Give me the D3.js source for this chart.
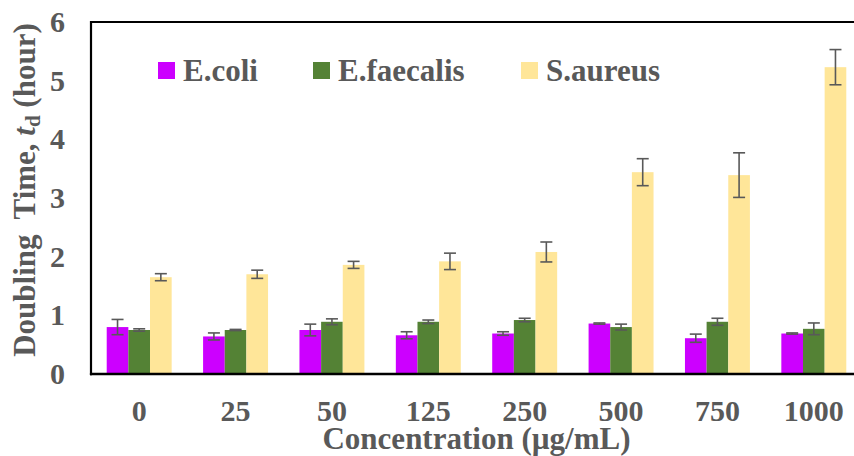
<!DOCTYPE html>
<html>
<head>
<meta charset="utf-8">
<script src="https://cdn.jsdelivr.net/npm/d3@7"></script>
<style>
  html, body { margin: 0; padding: 0; background: #fff; }
  svg { display: block; }
  text { font-family: "Liberation Serif", "Times New Roman", serif; font-weight: bold; fill: #595959; }
</style>
</head>
<body>
<svg id="chart" width="854" height="456"></svg>
<script>
// ---- data ----
const categories = ["0", "25", "50", "125", "250", "500", "750", "1000"];
const seriesNames = ["E.coli", "E.faecalis", "S.aureus"];
const ecoli        = [0.80, 0.64, 0.75, 0.66, 0.69, 0.86, 0.61, 0.69];
const ecoliErr     = [0.13, 0.06, 0.10, 0.06, 0.03, 0.01, 0.07, 0.01];
const efaecalis    = [0.75, 0.75, 0.89, 0.89, 0.92, 0.80, 0.89, 0.77];
const efaecalisErr = [0.02, 0.01, 0.05, 0.03, 0.03, 0.05, 0.06, 0.10];
const saureus      = [1.65, 1.70, 1.86, 1.92, 2.08, 3.44, 3.39, 5.23];
const saureusErr   = [0.06, 0.07, 0.06, 0.14, 0.17, 0.23, 0.38, 0.30];
const yTicks = [0, 1, 2, 3, 4, 5, 6];

// ---- layout ----
const colors = ["#CC00FF", "#548235", "#FFE699"];
const plot = { left: 91, right: 862, top: 22, bottom: 374 };
const W = 854, H = 456;

const values = [ecoli, efaecalis, saureus];
const errors = [ecoliErr, efaecalisErr, saureusErr];

const svg = d3.select("#chart");

const x0 = d3.scaleBand().domain(categories).range([plot.left, plot.right])
  .paddingInner(0.326).paddingOuter(0.163);
const x1 = d3.scaleBand().domain(seriesNames).range([0, x0.bandwidth()]);
const y = d3.scaleLinear().domain([0, 6]).range([plot.bottom, plot.top]);

// bars
seriesNames.forEach((s, si) => {
  const g = svg.append("g");
  g.selectAll("rect").data(categories).join("rect")
    .attr("x", c => x0(c) + x1(s))
    .attr("width", x1.bandwidth())
    .attr("y", (c, i) => y(values[si][i]))
    .attr("height", (c, i) => y(0) - y(values[si][i]))
    .attr("fill", colors[si]);
});

// error bars
const cap = 6;
seriesNames.forEach((s, si) => {
  const g = svg.append("g").attr("stroke", "#595959").attr("stroke-width", 1.6).attr("fill", "none");
  categories.forEach((c, i) => {
    const cx = x0(c) + x1(s) + x1.bandwidth() / 2;
    const v = values[si][i], e = errors[si][i];
    const y1 = y(v + e), y2 = y(v - e);
    g.append("line").attr("x1", cx).attr("x2", cx).attr("y1", y1).attr("y2", y2);
    g.append("line").attr("x1", cx - cap).attr("x2", cx + cap).attr("y1", y1).attr("y2", y1);
    g.append("line").attr("x1", cx - cap).attr("x2", cx + cap).attr("y1", y2).attr("y2", y2);
  });
});

// frame lines
svg.append("line").attr("x1", plot.left).attr("x2", W).attr("y1", plot.top).attr("y2", plot.top)
  .attr("stroke", "#000").attr("stroke-width", 1.8);
svg.append("line").attr("x1", plot.left).attr("x2", plot.left).attr("y1", plot.top - 0.9).attr("y2", plot.bottom + 1.2)
  .attr("stroke", "#000").attr("stroke-width", 2.2);
svg.append("line").attr("x1", plot.left - 1.1).attr("x2", W).attr("y1", plot.bottom).attr("y2", plot.bottom)
  .attr("stroke", "#000").attr("stroke-width", 2.6);

// y axis labels
const yAxis = d3.axisLeft(y).tickValues(yTicks).tickSize(0).tickPadding(26).tickFormat(d3.format("d"));
const yg = svg.append("g").attr("transform", `translate(${plot.left},0)`).call(yAxis);
yg.select(".domain").remove();
yg.selectAll("text").attr("font-size", 30).attr("font-family", null).style("fill", "#595959");

// x axis labels
const xAxis = d3.axisBottom(x0).tickSize(0).tickPadding(26);
const xg = svg.append("g").attr("transform", `translate(0,${plot.bottom})`).call(xAxis);
xg.select(".domain").remove();
xg.selectAll("text").attr("font-size", 30).attr("font-family", null).style("fill", "#595959");

// axis titles
svg.append("text")
  .attr("x", (plot.left + plot.right) / 2).attr("y", 449)
  .attr("text-anchor", "middle").attr("font-size", 31)
  .text("Concentration (\u00b5g/mL)");

const yt = svg.append("text")
  .attr("transform", `translate(35,190) rotate(-90)`)
  .attr("text-anchor", "middle").attr("font-size", 31);
yt.append("tspan").text("Doubling\u00a0 Time, ");
yt.append("tspan").attr("font-style", "italic").text("t");
yt.append("tspan").attr("font-size", 21).attr("dy", 5).text("d");
yt.append("tspan").attr("dy", -5).text(" (hour)");

// legend
const legX = [158, 313, 521];
seriesNames.forEach((s, si) => {
  svg.append("rect").attr("x", legX[si]).attr("y", 62).attr("width", 17).attr("height", 17).attr("fill", colors[si]);
  svg.append("text").attr("x", legX[si] + 25).attr("y", 81).attr("font-size", 31).text(s);
});
</script>
</body>
</html>
